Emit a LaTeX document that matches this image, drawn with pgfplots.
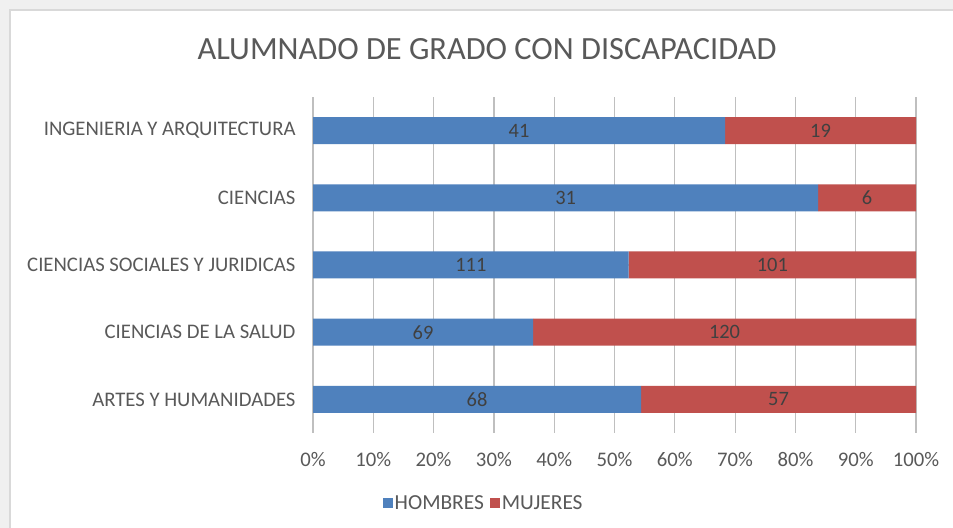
\documentclass[border=0pt]{standalone}
\usepackage{pgfplots}
\pgfplotsset{compat=1.18}
\usepackage{pgfplotstable}
\usepackage{fontspec}
\setmainfont{Carlito}

\definecolor{hombres}{HTML}{4F81BD}
\definecolor{mujeres}{HTML}{C0504D}
\definecolor{txt}{HTML}{595959}
\definecolor{lbl}{HTML}{404040}
\definecolor{grid}{HTML}{D9D9D9}

% y: category position, h/m: counts, hp/mp: share in %, hmid/mmid: segment centres
\pgfplotstableread{
y h m hp mp hmid mmid
4 41 19 68.33 31.67 34.17 84.17
3 31 6 83.78 16.22 41.89 91.89
2 111 101 52.36 47.64 26.18 76.18
1 69 120 36.51 63.49 18.25 68.25
0 68 57 54.40 45.60 27.20 77.20
}\datos

\pgfplotsset{
  marco/.style={
    scale only axis, width=603bp, height=336bp,
    at={(313bp,95bp)}, anchor=south west,
    xmin=0, xmax=100, ymin=-0.5, ymax=4.5,
  },
}

\begin{document}
\begin{tikzpicture}[x=1bp,y=1bp]
\path[use as bounding box] (0,0) rectangle (953,528);
\fill[black!6] (0,0) rectangle (953,528);
\filldraw[fill=white, draw=grid, line width=1.5bp] (10,-5) rectangle (970,518);

\node[text=txt, font=\fontsize{32.5}{38}\selectfont] at (487,479) {ALUMNADO DE GRADO CON DISCAPACIDAD};

\begin{axis}[
  marco,
  xbar stacked, bar width=27bp,
  axis line style={draw=none},
  major tick length=0pt,
  xmajorgrids, grid style={grid, line width=1.2bp},
  xtick={0,10,...,100},
  xticklabels={0\%,10\%,20\%,30\%,40\%,50\%,60\%,70\%,80\%,90\%,100\%},
  ytick={0,1,2,3,4},
  yticklabels={ARTES Y HUMANIDADES, CIENCIAS DE LA SALUD, CIENCIAS SOCIALES Y JURIDICAS, CIENCIAS, INGENIERIA Y ARQUITECTURA},
  tick label style={text=txt, font=\fontsize{20.8}{24}\selectfont},
  xticklabel style={yshift=-16bp},
  yticklabel style={xshift=-14bp},
  legend style={at={(0.283,-0.208)}, anchor=center, draw=none, fill=none,
    legend columns=2, font=\fontsize{21.5}{24}\selectfont, text=txt,
    /tikz/every even column/.append style={column sep=4bp}},
  legend image code/.code={\fill[#1] (0bp,-5bp) rectangle (10bp,5bp);},
]
\addplot[fill=hombres, draw=none] table[x=hp, y=y] {\datos};
\addlegendentry{HOMBRES}
\addplot[fill=mujeres, draw=none] table[x=mp, y=y] {\datos};
\addlegendentry{MUJERES}
\end{axis}

\begin{axis}[
  marco, hide axis,
  nodes near coords, point meta=explicit symbolic,
  every node near coord/.append style={anchor=center, text=lbl, font=\fontsize{20.5}{24}\selectfont},
]
\addplot[only marks, mark=none] table[x=hmid, y=y, meta=h] {\datos};
\addplot[only marks, mark=none] table[x=mmid, y=y, meta=m] {\datos};
\end{axis}
\end{tikzpicture}
\end{document}
